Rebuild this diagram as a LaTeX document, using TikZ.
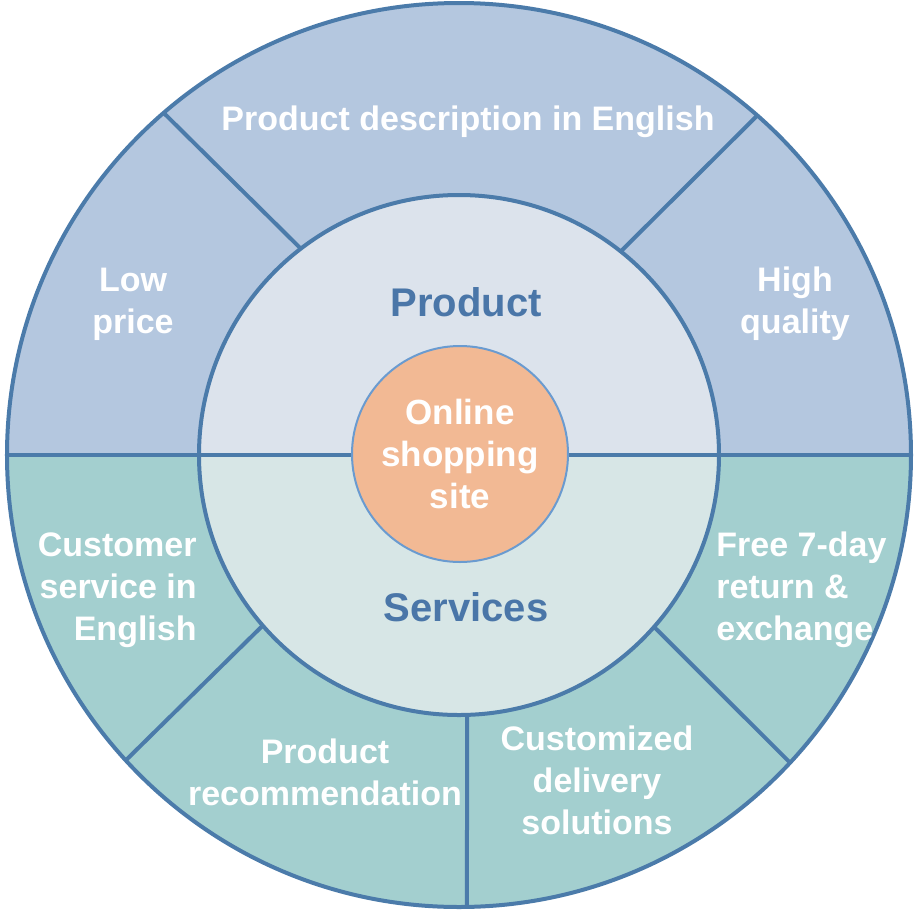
\documentclass[tikz,border=0pt]{standalone}
\usepackage{fontspec}
\setmainfont{Liberation Sans}
\usepackage{xcolor}
\usepackage{tikz}
\usetikzlibrary{positioning}
\definecolor{rimline}{RGB}{75,123,170}
\definecolor{topouter}{RGB}{180,199,223}
\definecolor{topinner}{RGB}{220,227,236}
\definecolor{botouter}{RGB}{163,207,207}
\definecolor{botinner}{RGB}{215,230,230}
\definecolor{hubfill}{RGB}{242,185,148}
\definecolor{hubline}{RGB}{106,155,208}
\definecolor{headtext}{RGB}{74,118,168}
\tikzstyle{sep} = [draw=rimline, line width=2pt]
\tikzstyle{leaf} = [inner sep=0pt, text=white, font=\fontsize{17}{21}\selectfont\bfseries]

\begin{document}
\begin{tikzpicture}[x=0.5pt, y=0.5pt,
    head/.style={inner sep=0pt, text=headtext, font=\fontsize{20}{24}\selectfont\bfseries},
    hub/.style={circle, draw=hubline, line width=1pt, fill=hubfill, minimum size=108pt, inner sep=0pt, text=white, align=center, font=\fontsize{17.5}{21}\selectfont\bfseries}]
    \useasboundingbox (-459,-457) rectangle (456,455);

    % Outer ring halves
    \fill[topouter] (452,0) arc (0:180:452) -- cycle;
    \fill[botouter] (-452,0) arc (180:360:452) -- cycle;
    % Inner ring halves
    \fill[topinner] (260,0) arc (0:180:260) -- cycle;
    \fill[botinner] (-260,0) arc (180:360:260) -- cycle;

    % Rings and separators
    \draw[sep] (0,0) circle (452);
    \draw[sep] (0,0) circle (260);
    \draw[sep] (-452,0) -- (452,0);
    \draw[sep] (130.8:452) -- (127.5:261);
    \draw[sep] (48.7:452) -- (51.5:261);
    \draw[sep] (-41.4:261) -- (-42.9:452);
    \draw[sep] (221:261) -- (222.5:452);
    \draw[sep] (-88.2:260) -- (-89:452);

    % Centre
    \node[hub] (site) at (1,1) {Online\\shopping\\site};
    \node[head] (product) at (7,153) {Product};
    \node[head] (services) at (7,-152) {Services};

    % Product side
    \node[leaf] (desc) at (9,333) {Product description in English};
    \node[leaf, align=center] (low) at (-326,151) {Low\\price};
    \node[leaf, align=center] (high) at (336,151) {High\\quality};

    % Services side
    \node[leaf, align=right, anchor=east] (care) at (-262,-135) {Customer\\service in\\English};
    \node[leaf, align=left, anchor=west] (return) at (257,-135) {Free 7-day\\return \&\\exchange};
    \node[leaf, align=center] (recommend) at (-134,-317) {Product\\recommendation};
    \node[leaf, align=center] (delivery) at (138,-325) {Customized\\delivery\\solutions};

\end{tikzpicture}
\end{document}
